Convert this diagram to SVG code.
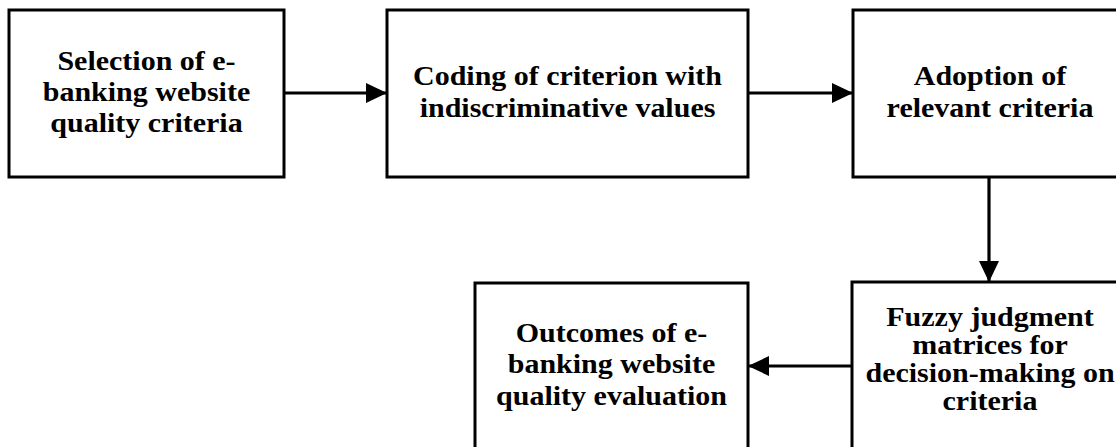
<svg xmlns="http://www.w3.org/2000/svg" width="1116" height="447" viewBox="0 0 1116 447">
<style>
.box{fill:#fff;stroke:#000;stroke-width:3}
.lbl{font-family:"Liberation Serif","Times New Roman",serif;font-weight:bold;font-size:30px;fill:#000;text-anchor:middle}
.edge{stroke:#000;stroke-width:3.2;fill:none}
</style>
<defs>
<marker id="ah" markerUnits="userSpaceOnUse" markerWidth="22" markerHeight="20" refX="21" refY="10" orient="auto">
<path d="M0,0 L21,10 L0,20 z" fill="#000"/>
</marker>
</defs>
<rect width="1116" height="447" fill="#fff"/>
<g id="connectors">
<line class="edge" x1="284" y1="93" x2="387" y2="93" marker-end="url(#ah)"/>
<line class="edge" x1="748" y1="93" x2="853" y2="93" marker-end="url(#ah)"/>
<line class="edge" x1="989" y1="177" x2="989" y2="282" marker-end="url(#ah)"/>
<line class="edge" x1="852" y1="366" x2="748" y2="366" marker-end="url(#ah)"/>
</g>
<g id="n1">
<rect class="box" x="9" y="10" width="275" height="167"/>
<text class="lbl" transform="translate(146.5,69.5) scale(1,0.92)"><tspan x="0" y="0">Selection of e-</tspan><tspan x="0" y="34.2">banking website</tspan><tspan x="0" y="67.9">quality criteria</tspan></text>
</g>
<g id="n2">
<rect class="box" x="387" y="10" width="361" height="167"/>
<text class="lbl" transform="translate(567.5,84.5) scale(1,0.92)"><tspan x="0" y="0">Coding of criterion with</tspan><tspan x="0" y="34.8">indiscriminative values</tspan></text>
</g>
<g id="n3">
<rect class="box" x="853" y="10" width="275" height="167"/>
<text class="lbl" transform="translate(990,85) scale(1,0.92)"><tspan x="0" y="0">Adoption of</tspan><tspan x="0" y="34.8">relevant criteria</tspan></text>
</g>
<g id="n4">
<rect class="box" x="852" y="282" width="276" height="180"/>
<text class="lbl" transform="translate(990,326) scale(1,0.92)"><tspan x="0" y="0">Fuzzy judgment</tspan><tspan x="0" y="30.4">matrices for</tspan><tspan x="0" y="60.9">decision-making on</tspan><tspan x="0" y="91.3">criteria</tspan></text>
</g>
<g id="n5">
<rect class="box" x="475" y="283" width="273" height="180"/>
<text class="lbl" transform="translate(611.5,342) scale(1,0.92)"><tspan x="0" y="0">Outcomes of e-</tspan><tspan x="0" y="34.2">banking website</tspan><tspan x="0" y="68.5">quality evaluation</tspan></text>
</g>
</svg>
